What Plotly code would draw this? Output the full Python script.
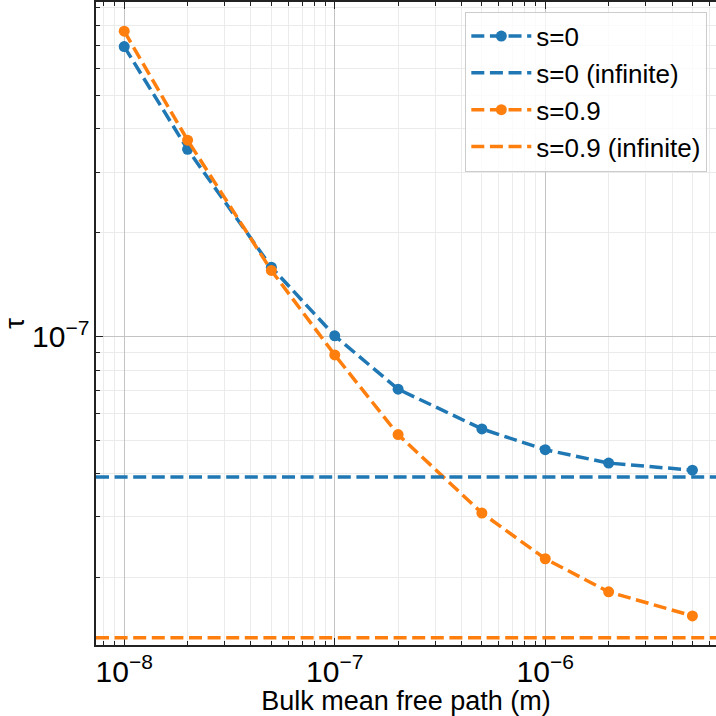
import plotly.graph_objects as go

# Data
mfp = [1e-8, 2e-8, 5e-8, 1e-7, 2e-7, 5e-7, 1e-6, 2e-6, 5e-6]
tau_s0 = [6.93e-7, 3.49e-7, 1.59e-7, 1.005e-7, 7.04e-8, 5.40e-8, 4.70e-8, 4.30e-8, 4.10e-8]
tau_s09 = [7.68e-7, 3.71e-7, 1.555e-7, 8.85e-8, 5.20e-8, 3.08e-8, 2.27e-8, 1.82e-8, 1.55e-8]
tau_inf_s0 = 3.92e-8
tau_inf_s09 = 1.34e-8

BLUE = "#1f77b4"
ORANGE = "#ff7f0e"
DASH = "13px,5.6px"
LW = 3.5
FONT = "Liberation Sans, Arial, sans-serif"

fig = go.Figure()
fig.add_trace(go.Scatter(x=mfp, y=tau_s0, mode="lines+markers", name="s=0",
                         line=dict(color=BLUE, width=LW, dash=DASH),
                         marker=dict(size=11, color=BLUE), legendrank=1))
fig.add_trace(go.Scatter(x=mfp, y=tau_s09, mode="lines+markers", name="s=0.9",
                         line=dict(color=ORANGE, width=LW, dash=DASH),
                         marker=dict(size=11, color=ORANGE), legendrank=3))
fig.add_hline(y=tau_inf_s0, line=dict(color=BLUE, width=LW, dash=DASH),
              showlegend=True, name="s=0 (infinite)", legendrank=2, layer="above")
fig.add_hline(y=tau_inf_s09, line=dict(color=ORANGE, width=LW, dash=DASH),
              showlegend=True, name="s=0.9 (infinite)", legendrank=4, layer="above")

axis_common = dict(
    type="log",
    showline=True, linecolor="#222222", linewidth=1.5,
    ticks="inside", ticklen=7, tickwidth=1.2, tickcolor="#222222",
    showgrid=True, gridcolor="#c4c4c4", gridwidth=1,
    dtick=1, exponentformat="power", showexponent="all",
    tickfont=dict(family=FONT, size=24, color="black"),
    minor=dict(ticks="inside", ticklen=4, tickwidth=1, tickcolor="#222222",
               showgrid=True, gridcolor="#ebebeb", gridwidth=1, dtick="D1"),
    zeroline=False,
)

fig.update_xaxes(**axis_common, range=[-8.134, -5.189], mirror="ticks",
                 title=dict(text="Bulk mean free path (m)",
                            font=dict(family=FONT, size=27, color="black"), standoff=0))
fig.update_yaxes(**axis_common, range=[-7.894, -6.030], mirror=False,
                 title=dict(text="τ", font=dict(family=FONT, size=27, color="black"), standoff=14))

fig.update_layout(
    width=716, height=716,
    margin=dict(l=96, r=0, t=2, b=71, autoexpand=False),
    plot_bgcolor="white", paper_bgcolor="white",
    font=dict(family=FONT, color="black"),
    legend=dict(x=0.986, y=0.985, xanchor="right", yanchor="top",
                bgcolor="rgba(255,255,255,0.8)", bordercolor="#cccccc", borderwidth=1,
                font=dict(family=FONT, size=26, color="black"),
                tracegroupgap=0, itemwidth=60),
    showlegend=True,
)

fig.write_html("out.html", config={"displayModeBar": False},
               post_script="document.body.style.margin='0';document.body.style.overflow='hidden';")
